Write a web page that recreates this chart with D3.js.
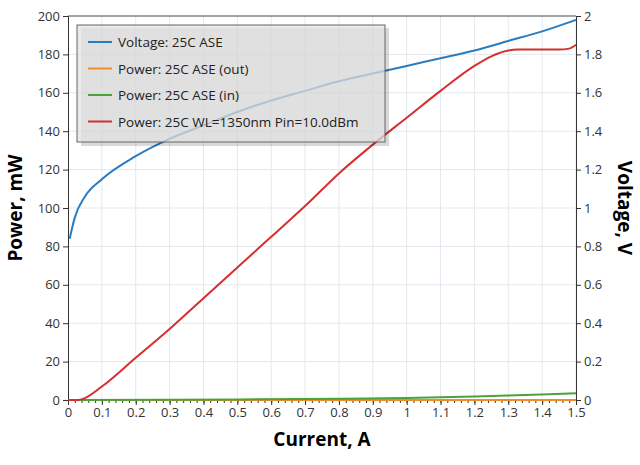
<!DOCTYPE html>
<html><head><meta charset="utf-8">
<script src="https://cdn.jsdelivr.net/npm/d3@7"></script>
<style>body{margin:0;background:#fff;font-family:"Open Sans",sans-serif}</style>
</head><body><svg id="c" width="640" height="465"></svg>
<script>
const vI=[0.005,0.01,0.02,0.05,0.1,0.2,0.3,0.4,0.5,0.6,0.7,0.8,0.9,1.0,1.1,1.2,1.3,1.4,1.5];
const vV=[0.84,0.88,0.95,1.06,1.15,1.27,1.36,1.43,1.50,1.56,1.61,1.66,1.70,1.74,1.78,1.82,1.87,1.92,1.98];
const rI=[0,0.03,0.05,0.1,0.2,0.3,0.4,0.5,0.6,0.7,0.8,0.9,1.0,1.1,1.2,1.25,1.3,1.33,1.35,1.45,1.48,1.5];
const rP=[0,0,1,7,22,37,53,69,85,101,118,133,147,161,174,179,182,182.5,182.5,182.5,183,185];
const gI=[0,0.5,0.8,1.0,1.2,1.3,1.4,1.5];
const gP=[0,0.3,0.6,1,1.8,2.3,2.9,3.5];
const oI=[0,1.5], oP=[0,0];
const legend=["Voltage: 25C ASE","Power: 25C ASE (out)","Power: 25C ASE (in)","Power: 25C WL=1350nm Pin=10.0dBm"];
const colors=["#2b7bbf","#f28c28","#4aa33a","#d62f2f"];

const svg=d3.select("#c");
const L=68,R=576,T=16,B=400;
const x=d3.scaleLinear().domain([0,1.5]).range([L,R]);
const yP=d3.scaleLinear().domain([0,200]).range([B,T]);
const yV=d3.scaleLinear().domain([0,2]).range([B,T]);
const g=svg.append("g");
// grid
g.selectAll(".gx").data(d3.range(1,16).map(i=>i/10)).join("line")
 .attr("x1",d=>x(d)).attr("x2",d=>x(d)).attr("y1",T).attr("y2",B).attr("stroke","#e3e8ee");
g.selectAll(".gy").data(d3.range(20,201,20)).join("line")
 .attr("y1",d=>yP(d)).attr("y2",d=>yP(d)).attr("x1",L).attr("x2",R).attr("stroke","#e3e8ee");
svg.append("line").attr("x1",L).attr("x2",R).attr("y1",T).attr("y2",T).attr("stroke","#555");
const fmt=d=>String(+d.toFixed(1));
const ax=svg.append("g").attr("transform",`translate(0,${B})`).call(d3.axisBottom(x).tickValues(d3.range(0,16).map(i=>i/10)).tickFormat(fmt).tickSize(5));
svg.append("g").attr("transform",`translate(0,${B})`).call(d3.axisBottom(x).tickValues(d3.range(0,76).map(i=>i/50)).tickFormat("").tickSize(3));
svg.append("g").attr("transform",`translate(${L},0)`).call(d3.axisLeft(yP).tickValues(d3.range(0,201,20)).tickSize(5));
svg.append("g").attr("transform",`translate(${R},0)`).call(d3.axisRight(yV).tickValues(d3.range(0,11).map(i=>i/5)).tickFormat(fmt).tickSize(5));
svg.selectAll(".tick text").attr("font-size",13).attr("fill","#333").attr("font-family","Open Sans");
svg.selectAll(".domain,.tick line").attr("stroke","#333");
const line=(xs,ys,sy)=>d3.line().x((d,i)=>x(xs[i])).y((d,i)=>sy(ys[i])).curve(d3.curveMonotoneX)(xs);
svg.append("path").attr("d",line(oI,oP,yP)).attr("stroke",colors[1]).attr("fill","none").attr("stroke-width",2);
svg.append("path").attr("d",line(gI,gP,yP)).attr("stroke",colors[2]).attr("fill","none").attr("stroke-width",2);
svg.append("path").attr("d",line(rI,rP,yP)).attr("stroke",colors[3]).attr("fill","none").attr("stroke-width",2);
svg.append("path").attr("d",line(vI,vV,yV)).attr("stroke",colors[0]).attr("fill","none").attr("stroke-width",2);
// labels
svg.append("text").attr("x",(L+R)/2).attr("y",446).attr("text-anchor","middle").attr("font-size",19).attr("font-weight","bold").text("Current, A");
svg.append("text").attr("transform",`translate(22,${(T+B)/2}) rotate(-90)`).attr("text-anchor","middle").attr("font-size",19).attr("font-weight","bold").text("Power, mW");
svg.append("text").attr("transform",`translate(618,${(T+B)/2}) rotate(90)`).attr("text-anchor","middle").attr("font-size",19).attr("font-weight","bold").text("Voltage, V");
// legend
const lg=svg.append("g");
lg.append("rect").attr("x",81).attr("y",28).attr("width",308).attr("height",118).attr("fill","#000").attr("opacity",0.15);
lg.append("rect").attr("x",77).attr("y",25).attr("width",308).attr("height",117).attr("fill","rgba(225,225,225,0.75)").attr("stroke","#666");
legend.forEach((t,i)=>{
 const yy=42+i*26.5;
 lg.append("line").attr("x1",88).attr("x2",112).attr("y1",yy).attr("y2",yy).attr("stroke",colors[i]).attr("stroke-width",2);
 lg.append("text").attr("x",118).attr("y",yy+5).attr("font-size",13.5).attr("fill","#222").text(t);
});
</script></body></html>
